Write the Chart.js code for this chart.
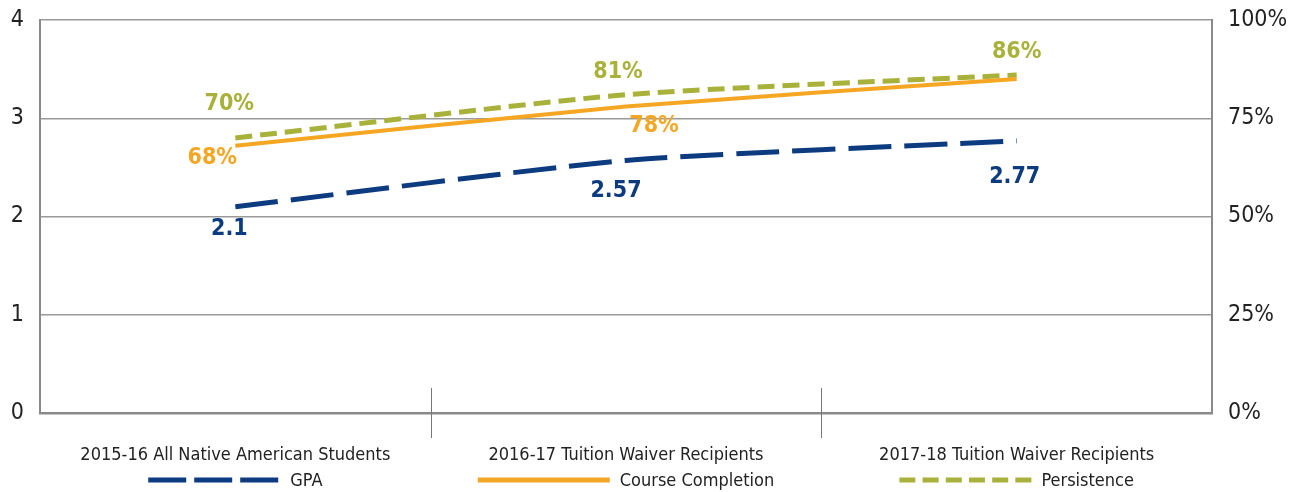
<!DOCTYPE html>
<html>
<head>
<meta charset="utf-8">
<script src="https://cdn.jsdelivr.net/npm/chart.js@4"></script>
<style>
  html, body { margin: 0; padding: 0; background: #fff; }
</style>
</head>
<body>
<canvas id="chart" width="1291" height="492"></canvas>
<script>
const categories = [
  '2015-16 All Native American Students',
  '2016-17 Tuition Waiver Recipients',
  '2017-18 Tuition Waiver Recipients'
];
const gpa = [2.1, 2.57, 2.77];
const courseCompletion = [68, 78, 85];
const persistence = [70, 81, 86];
const gpaTicks = [0, 1, 2, 3, 4];
const pctTicks = [0, 25, 50, 75, 100];

const FONT = "'Liberation Sans Narrow', 'DejaVu Sans Condensed', sans-serif";
const NAVY = '#0d3b80';
const ORANGE = '#f5a623';
const OLIVE = '#a8b13a';

// value labels next to the points
const valueLabels = {
  id: 'valueLabels',
  afterDatasetsDraw(chart) {
    const ctx = chart.ctx;
    chart.data.datasets.forEach((ds, i) => {
      const meta = chart.getDatasetMeta(i);
      meta.data.forEach((pt, j) => {
        const off = ds.labelOffsets[j];
        if (!off) return;
        ctx.save();
        ctx.font = 'bold 23px ' + FONT;
        ctx.fillStyle = ds.borderColor;
        ctx.textAlign = 'center';
        ctx.textBaseline = 'middle';
        ctx.fillText(ds.fmt(ds.data[j]), pt.x + off[0], pt.y + off[1]);
        ctx.restore();
      });
    });
  }
};

// short dividers between categories + legend under each category
const extras = {
  id: 'extras',
  afterDraw(chart) {
    const ctx = chart.ctx;
    const x = chart.scales.x;
    const bottom = chart.chartArea.bottom;
    ctx.save();
    ctx.strokeStyle = '#777';
    ctx.lineWidth = 1;
    for (let i = 0; i < categories.length - 1; i++) {
      const px = Math.round((x.getPixelForValue(i) + x.getPixelForValue(i + 1)) / 2) + 0.5;
      ctx.beginPath();
      ctx.moveTo(px, bottom - 25);
      ctx.lineTo(px, bottom + 25);
      ctx.stroke();
    }
    ctx.restore();

    const ly = 480;
    chart.data.datasets.forEach((ds, i) => {
      ctx.save();
      ctx.font = '18px ' + FONT;
      const tw = ctx.measureText(ds.label).width;
      const lineW = 132, gap = 10;
      const total = lineW + gap + tw;
      const cx = x.getPixelForValue(i);
      const x0 = cx - total / 2;
      ctx.strokeStyle = ds.borderColor;
      ctx.lineWidth = 5;
      ctx.setLineDash(ds.legendDash);
      ctx.beginPath();
      ctx.moveTo(x0, ly);
      ctx.lineTo(x0 + lineW, ly);
      ctx.stroke();
      ctx.setLineDash([]);
      ctx.fillStyle = '#222';
      ctx.textBaseline = 'middle';
      ctx.fillText(ds.label, x0 + lineW + gap, ly + 1);
      ctx.restore();
    });
  }
};

const fitY = w => s => {
  s.width = w;
  s.paddingTop = 0;
  s.paddingBottom = 0;
};

new Chart(document.getElementById('chart'), {
  type: 'line',
  data: {
    labels: categories,
    datasets: [
      {
        label: 'GPA',
        data: gpa,
        yAxisID: 'y',
        borderColor: NAVY,
        borderWidth: 5,
        borderDash: [43, 13],
        legendDash: [38, 8],
        labelOffsets: [[-6, 22], [-10, 31], [-2, 36]],
        fmt: v => String(v)
      },
      {
        label: 'Course Completion',
        data: courseCompletion,
        yAxisID: 'y1',
        borderColor: ORANGE,
        borderWidth: 4,
        borderDash: [],
        legendDash: [],
        labelOffsets: [[-23, 12], [28, 20], null],
        fmt: v => v + '%'
      },
      {
        label: 'Persistence',
        data: persistence,
        yAxisID: 'y1',
        borderColor: OLIVE,
        borderWidth: 5,
        borderDash: [17, 8],
        legendDash: [16, 7.2],
        labelOffsets: [[-6, -34], [-8, -23], [0, -23]],
        fmt: v => v + '%'
      }
    ]
  },
  options: {
    responsive: false,
    devicePixelRatio: 1,
    animation: false,
    layout: { padding: { top: 20, left: 0, right: 0, bottom: 0 } },
    elements: {
      line: { tension: 0.2, borderCapStyle: 'butt' },
      point: { radius: 0 }
    },
    plugins: {
      legend: { display: false },
      tooltip: { enabled: false }
    },
    scales: {
      x: {
        offset: true,
        grid: { display: false, offset: true },
        border: { display: true, color: '#8a8a8a', width: 2.5 },
        ticks: {
          color: '#222',
          font: { family: FONT, size: 18 },
          padding: 24,
          maxRotation: 0,
          autoSkip: false
        },
        afterFit: s => { s.height = 79; }
      },
      y: {
        position: 'left',
        min: 0,
        max: 4,
        afterBuildTicks: s => { s.ticks = gpaTicks.map(v => ({ value: v })); },
        grid: { color: '#9a9a9a', lineWidth: 1.5, drawTicks: false },
        border: { display: true, color: '#8a8a8a', width: 2 },
        ticks: {
          color: '#222',
          font: { family: FONT, size: 23 },
          padding: 16
        },
        afterFit: fitY(40)
      },
      y1: {
        position: 'right',
        min: 0,
        max: 100,
        afterBuildTicks: s => { s.ticks = pctTicks.map(v => ({ value: v })); },
        grid: { display: false, drawTicks: false },
        border: { display: true, color: '#8a8a8a', width: 2 },
        ticks: {
          color: '#222',
          font: { family: FONT, size: 23 },
          padding: 16,
          callback: v => v + '%'
        },
        afterFit: fitY(79)
      }
    }
  },
  plugins: [valueLabels, extras]
});
</script>
</body>
</html>
